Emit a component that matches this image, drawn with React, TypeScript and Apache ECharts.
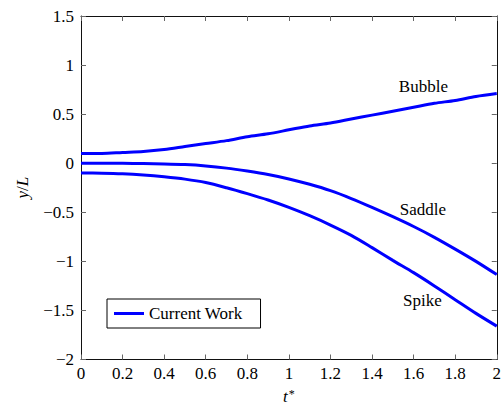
import React, { useEffect, useRef } from "react";
import * as echarts from "echarts";

// Dimensionless time t*
const tValues = [0, 0.1, 0.2, 0.3, 0.4, 0.5, 0.6, 0.7, 0.8, 0.9, 1.0, 1.1, 1.2, 1.3, 1.4, 1.5, 1.6, 1.7, 1.8, 1.9, 2.0];

// Interface position y/L for each structure
const bubbleY = [0.1, 0.1, 0.11, 0.12, 0.14, 0.17, 0.2, 0.23, 0.27, 0.3, 0.34, 0.38, 0.41, 0.45, 0.49, 0.53, 0.57, 0.61, 0.64, 0.68, 0.71];
const saddleY = [0.0, 0.0, -0.001, -0.003, -0.007, -0.014, -0.028, -0.05, -0.08, -0.115, -0.16, -0.215, -0.28, -0.36, -0.45, -0.545, -0.645, -0.755, -0.875, -1.0, -1.135];
const spikeY = [-0.1, -0.102, -0.108, -0.12, -0.138, -0.162, -0.197, -0.25, -0.31, -0.375, -0.45, -0.535, -0.63, -0.735, -0.86, -0.99, -1.115, -1.25, -1.39, -1.53, -1.66];

// Curve annotations
const annotationNames = ["Bubble", "Saddle", "Spike"];
const annotationT = [1.647, 1.645, 1.642];
const annotationY = [0.78, -0.467, -1.395];

const seriesName = "Current Work";
const FONT = "'Liberation Serif', serif";
const SIZE = 17;

const fmt = (v: number) => String(Math.round(v * 1000) / 1000).replace("-", "\u2212");

export default function App() {
  const ref = useRef<HTMLDivElement>(null);

  useEffect(() => {
    if (!ref.current) return;
    const chart = echarts.init(ref.current, undefined, { renderer: "svg" });

    const curves = [bubbleY, saddleY, spikeY];
    const frameLine = { show: true, onZero: false, lineStyle: { color: "#111", width: 1 } };
    const tick = { show: true, inside: true, length: 5, lineStyle: { color: "#666", width: 1 } };
    const textStyle = { color: "#000", fontFamily: FONT, fontSize: SIZE };

    const option: echarts.EChartsOption = {
      animation: false,
      grid: { left: 81, right: 1, top: 16, bottom: 47, containLabel: false },
      legend: {
        data: [seriesName],
        left: 107,
        top: 299,
        orient: "horizontal",
        icon: "rect",
        itemWidth: 30,
        itemHeight: 3,
        padding: [6, 18, 6, 7],
        borderColor: "#000",
        borderWidth: 1,
        backgroundColor: "#fff",
        textStyle: { ...textStyle },
        selectedMode: false,
      },
      xAxis: [
        {
          type: "value",
          min: 0,
          max: 2,
          interval: 0.2,
          position: "bottom",
          axisLine: frameLine,
          axisTick: tick,
          splitLine: { show: false },
          axisLabel: { ...textStyle, margin: 5, formatter: fmt, showMaxLabel: true, showMinLabel: true },
          name: "{i|t}{s|*}",
          nameLocation: "middle",
          nameGap: 28,
          nameTextStyle: {
            rich: {
              i: { fontFamily: FONT, fontSize: SIZE, fontStyle: "italic", color: "#000" },
              s: { fontFamily: FONT, fontSize: 12, color: "#000", padding: [0, 0, 6, 1] },
            },
          },
        },
        {
          type: "value",
          min: 0,
          max: 2,
          interval: 0.2,
          position: "top",
          axisLine: frameLine,
          axisTick: tick,
          splitLine: { show: false },
          axisLabel: { show: false },
        },
      ],
      yAxis: [
        {
          type: "value",
          min: -2,
          max: 1.5,
          interval: 0.5,
          position: "left",
          axisLine: frameLine,
          axisTick: tick,
          splitLine: { show: false },
          axisLabel: { ...textStyle, margin: 7, formatter: fmt },
          name: "{i|y}/{i|L}",
          nameLocation: "middle",
          nameGap: 50,
          nameTextStyle: {
            fontFamily: FONT,
            fontSize: SIZE,
            color: "#000",
            rich: {
              i: { fontFamily: FONT, fontSize: SIZE, fontStyle: "italic", color: "#000" },
            },
          },
        },
        {
          type: "value",
          min: -2,
          max: 1.5,
          interval: 0.5,
          position: "right",
          axisLine: frameLine,
          axisTick: tick,
          splitLine: { show: false },
          axisLabel: { show: false },
        },
      ],
      series: curves.map((ys, k) => ({
        name: seriesName,
        type: "line",
        xAxisIndex: 0,
        yAxisIndex: 0,
        data: tValues.map((t, i) => [t, ys[i]]),
        symbol: "none",
        smooth: 0.3,
        lineStyle: { color: "#0000ff", width: 3 },
        itemStyle: { color: "#0000ff" },
        clip: true,
        markPoint: {
          silent: true,
          symbol: "circle",
          symbolSize: 0,
          itemStyle: { color: "transparent" },
          label: {
            show: true,
            position: "inside",
            formatter: annotationNames[k],
            ...textStyle,
          },
          data: [{ coord: [annotationT[k], annotationY[k]] }],
        },
      })),
    };

    chart.setOption(option);
    return () => chart.dispose();
  }, []);

  return (
    <div
      ref={ref}
      style={{ position: "absolute", left: 0, top: 0, width: 504, height: 410, background: "#fff" }}
    />
  );
}
